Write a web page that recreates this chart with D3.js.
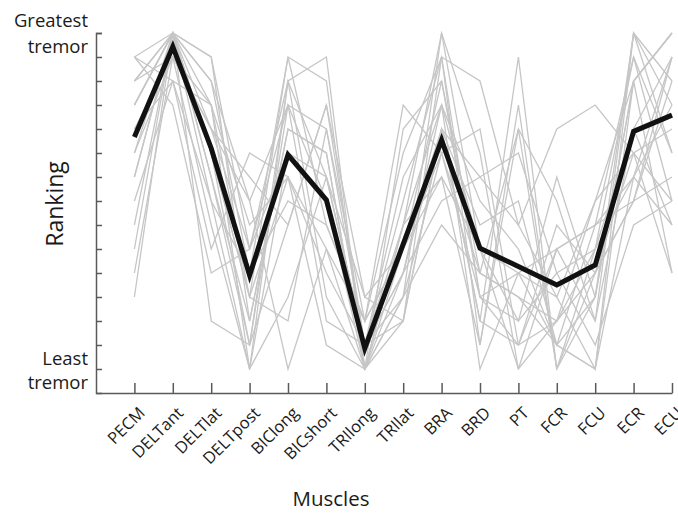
<!DOCTYPE html>
<html>
<head>
<meta charset="utf-8">
<script src="https://cdn.jsdelivr.net/npm/d3@7"></script>
<style>
  html, body { margin: 0; padding: 0; background: #ffffff; }
  svg { display: block; font-family: "Open Sans", "Noto Sans", sans-serif; }
</style>
</head>
<body>
<svg id="chart" width="678" height="513"></svg>
<script>
// Muscles (x categories)
const muscles = ["PECM","DELTant","DELTlat","DELTpost","BIClong","BICshort","TRIlong","TRIlat","BRA","BRD","PT","FCR","FCU","ECR","ECU"];

// Mean ranking (black line), 15 = greatest tremor, 1 = least tremor
const meanRank = [10.67, 14.43, 10.2, 4.9, 9.92, 8.04, 1.86, 6.2, 10.54, 6.03, 5.27, 4.5, 5.33, 10.9, 11.58];

// Individual subject rankings (gray lines)
const subject01 = [14, 15, 13, 8, 12, 11, 3, 6, 10, 5, 4, 2, 1, 9, 7];
const subject02 = [12, 15, 10, 4, 14, 13, 1, 5, 11, 3, 2, 6, 7, 8, 9];
const subject03 = [13, 14, 11, 9, 7, 12, 2, 4, 15, 6, 1, 3, 5, 10, 8];
const subject04 = [10, 15, 12, 1, 13, 9, 2, 8, 14, 4, 3, 5, 6, 11, 7];
const subject05 = [9, 15, 14, 3, 11, 10, 1, 7, 12, 8, 6, 2, 4, 13, 5];
const subject06 = [11, 13, 8, 5, 14, 7, 3, 6, 9, 2, 12, 1, 4, 15, 10];
const subject07 = [7, 15, 9, 2, 12, 8, 1, 11, 13, 5, 4, 3, 6, 14, 10];
const subject08 = [14, 12, 5, 6, 10, 9, 4, 3, 11, 7, 8, 2, 1, 13, 15];
const subject09 = [13, 15, 10, 4, 3, 11, 2, 9, 12, 1, 5, 6, 7, 14, 8];
const subject10 = [5, 14, 12, 7, 9, 6, 1, 4, 10, 11, 2, 3, 8, 13, 15];
const subject11 = [12, 15, 3, 2, 13, 14, 1, 7, 9, 6, 5, 4, 8, 10, 11];
const subject12 = [4, 15, 13, 5, 8, 7, 3, 10, 14, 2, 11, 1, 6, 9, 12];
const subject13 = [10, 14, 11, 6, 12, 3, 2, 5, 8, 9, 7, 4, 1, 15, 13];
const subject14 = [12, 15, 9, 3, 11, 10, 1, 6, 13, 4, 2, 7, 5, 8, 14];
const subject15 = [8, 13, 12, 4, 9, 5, 2, 7, 15, 10, 1, 6, 3, 11, 14];
const subject16 = [13, 15, 11, 8, 1, 6, 3, 12, 10, 4, 5, 2, 7, 9, 14];
const subject17 = [11, 14, 7, 1, 10, 8, 2, 5, 12, 6, 3, 9, 4, 13, 15];
const subject18 = [12, 15, 14, 6, 13, 4, 1, 3, 11, 9, 10, 5, 2, 7, 8];
const subject19 = [9, 15, 10, 2, 7, 12, 4, 6, 11, 3, 14, 1, 5, 8, 13];
const subject20 = [14, 13, 6, 10, 9, 2, 1, 4, 7, 5, 11, 8, 3, 15, 12];
const subject21 = [6, 15, 8, 1, 4, 9, 2, 3, 14, 13, 7, 11, 12, 10, 5];
const subjects = [subject01, subject02, subject03, subject04, subject05, subject06, subject07,
  subject08, subject09, subject10, subject11, subject12, subject13, subject14, subject15,
  subject16, subject17, subject18, subject19, subject20, subject21];

const rankTicks = d3.range(1, 16);

const svg = d3.select("#chart");
const x = d3.scaleLinear().domain([0, 15]).range([96, 672]);
const y = d3.scaleLinear().domain([0, 15]).range([393, 33]);

const line = d3.line()
  .x((d, i) => x(i + 1))
  .y(d => y(d));

// gray subject lines
svg.append("g")
  .selectAll("path")
  .data(subjects)
  .join("path")
  .attr("d", line)
  .attr("fill", "none")
  .attr("stroke", "#c6c6c6")
  .attr("stroke-width", 1.3);

// mean line
svg.append("path")
  .datum(meanRank)
  .attr("d", line)
  .attr("fill", "none")
  .attr("stroke", "#111111")
  .attr("stroke-width", 5)
  .attr("stroke-linejoin", "miter");

// y axis
const yAxis = svg.append("g")
  .attr("transform", "translate(96,0)")
  .call(d3.axisRight(y).tickValues(rankTicks).tickSizeInner(6).tickSizeOuter(6).tickFormat(""));
yAxis.selectAll("path, line").attr("stroke", "#5a5a5a").attr("stroke-width", 1.5);

// x axis
const xAxis = svg.append("g")
  .attr("transform", "translate(0,393)")
  .call(d3.axisBottom(x).tickValues(rankTicks).tickSizeInner(-10).tickSizeOuter(0)
    .tickFormat(d => muscles[d - 1]));
xAxis.attr("font-size", null).attr("font-family", null);
xAxis.selectAll("path, line").attr("stroke", "#5a5a5a").attr("stroke-width", 1.5);
xAxis.selectAll("text")
  .attr("y", null)
  .attr("dy", null)
  .attr("text-anchor", "end")
  .attr("transform", "translate(11,21) rotate(-45)")
  .style("font-family", "'Open Sans', sans-serif")
  .style("font-size", "16.5px")
  .attr("fill", "#1a1a1a");

// y-axis end labels
const endLabels = svg.append("g")
  .style("font-size", "18.5px")
  .attr("fill", "#1a1a1a")
  .attr("text-anchor", "end");
endLabels.append("text").attr("x", 88).attr("y", 27).text("Greatest");
endLabels.append("text").attr("x", 88).attr("y", 53).text("tremor");
endLabels.append("text").attr("x", 88).attr("y", 365).text("Least");
endLabels.append("text").attr("x", 88).attr("y", 389).text("tremor");

// axis titles
svg.append("text")
  .attr("transform", "translate(63,204) rotate(-90)")
  .attr("text-anchor", "middle")
  .style("font-size", "23px")
  .attr("fill", "#1a1a1a")
  .text("Ranking");

svg.append("text")
  .attr("x", 331)
  .attr("y", 506)
  .attr("text-anchor", "middle")
  .style("font-size", "20.5px")
  .attr("fill", "#1a1a1a")
  .text("Muscles");
</script>
</body>
</html>
